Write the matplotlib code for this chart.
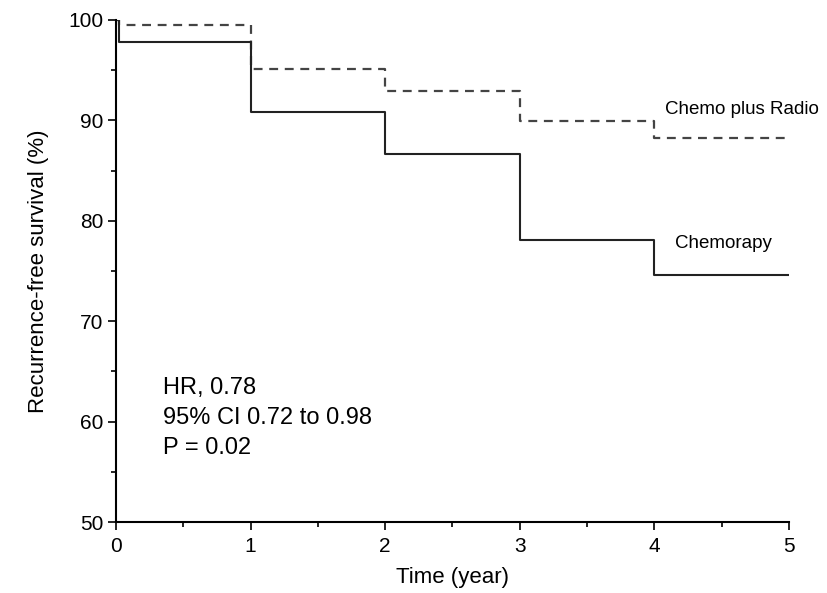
import numpy as np
import matplotlib.pyplot as plt
from matplotlib.ticker import MultipleLocator

plt.rcParams['font.family'] = ['Liberation Sans', 'DejaVu Sans']

# step times and survival levels (%)
time_steps = [0, 0.02, 1, 2, 3, 4, 5]
chemo_radio = [100, 99.5, 95.1, 92.9, 89.9, 88.2, 88.2]
chemo = [100, 97.8, 90.8, 86.7, 78.1, 74.6, 74.6]

stats_lines = ["HR, 0.78", "95% CI 0.72 to 0.98", "P = 0.02"]

fig = plt.figure(figsize=(8.28, 5.93), dpi=100)
ax = fig.add_axes([0.140, 0.1197, 0.8128, 0.8466])

ax.step(time_steps, chemo_radio, where='post', color='#444444', lw=1.6,
        linestyle=(0, (4, 3)))
ax.step(time_steps, chemo, where='post', color='#222222', lw=1.5)

ax.text(4.08, 91.1, "Chemo plus Radio", fontsize=13.5, ha='left', va='center')
ax.text(4.15, 77.7, "Chemorapy", fontsize=13.5, ha='left', va='center')
for i, line in enumerate(stats_lines):
    ax.text(0.35, 63.3 - 2.95 * i, line, fontsize=17, ha='left', va='center')

ax.set_xlim(0, 5)
ax.set_ylim(50, 100)
ax.xaxis.set_major_locator(MultipleLocator(1))
ax.xaxis.set_minor_locator(MultipleLocator(0.5))
ax.yaxis.set_major_locator(MultipleLocator(10))
ax.yaxis.set_minor_locator(MultipleLocator(5))
ax.tick_params(which='major', length=6, width=1.2, labelsize=15, direction='out', pad=3)
ax.tick_params(which='minor', length=3.5, width=1.2, direction='out')
ax.tick_params(axis='x', which='major', pad=5)
ax.spines['top'].set_visible(False)
ax.spines['right'].set_visible(False)
ax.spines['left'].set_linewidth(1.5)
ax.spines['bottom'].set_linewidth(1.5)

ax.set_xlabel("Time (year)", fontsize=16, labelpad=8)
ax.set_ylabel("Recurrence-free survival (%)", fontsize=16, labelpad=14)

fig.savefig("out.png", dpi=100)
